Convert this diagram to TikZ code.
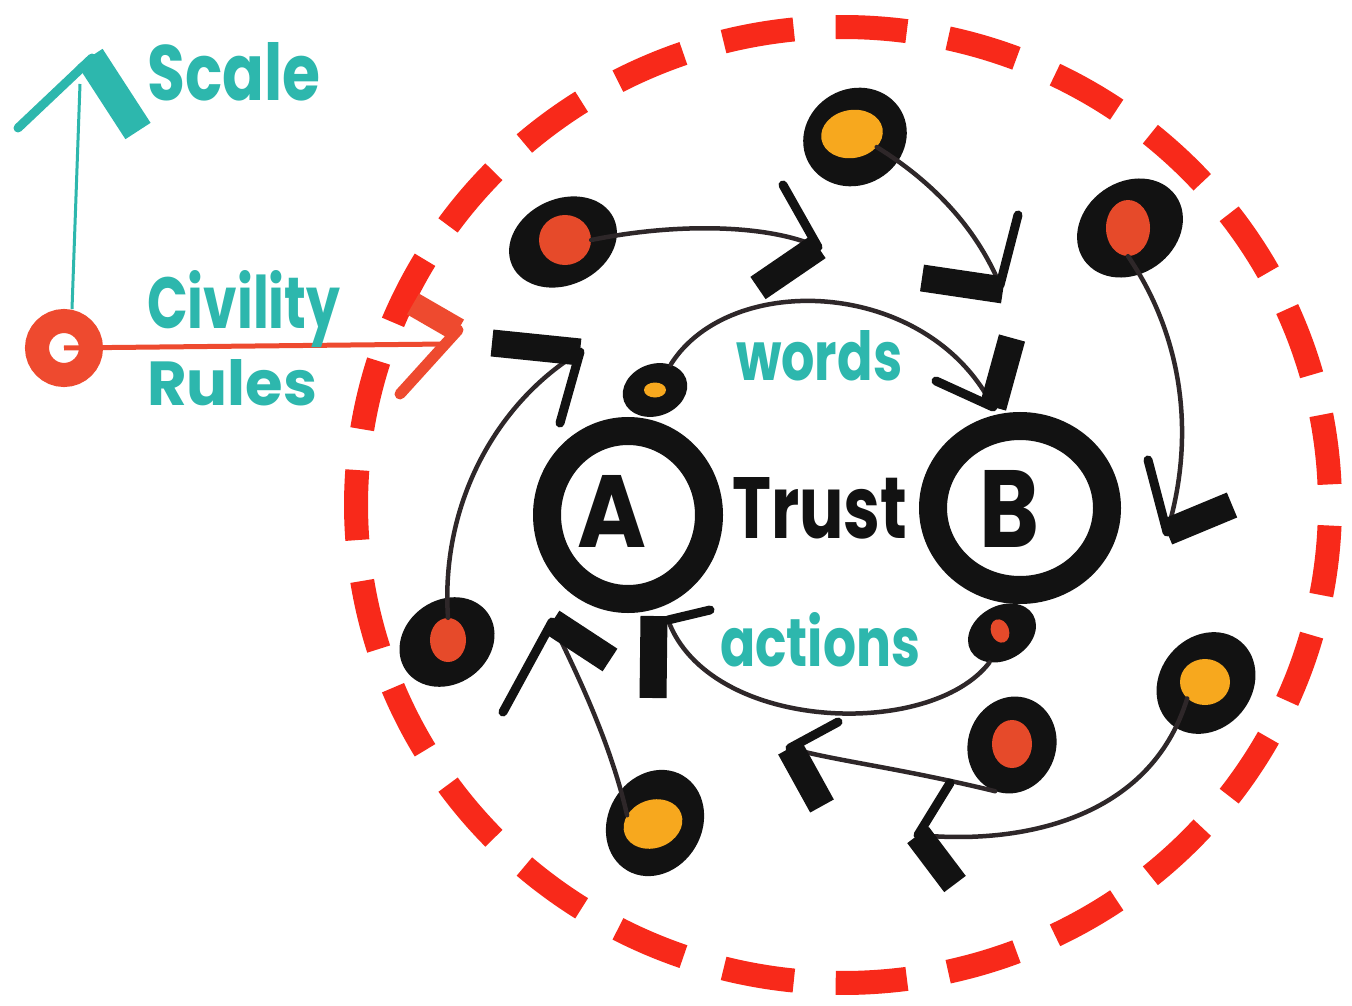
\documentclass[tikz,border=0pt]{standalone}
\usepackage{fontspec}
\setmainfont{Poppins}
\usetikzlibrary{shapes.geometric,calc}
\definecolor{tealink}{HTML}{2DB7AD}
\definecolor{dashred}{HTML}{F8291A}
\definecolor{arrred}{HTML}{EE4A2F}
\definecolor{dotred}{HTML}{E64A2A}
\definecolor{dotorange}{HTML}{F7A81E}
\definecolor{ink}{HTML}{121212}
\definecolor{wirecol}{HTML}{2E2729}
\newcommand{\fitto}[3]{\resizebox{#1pt}{#2pt}{#3}}
\begin{document}
\begin{tikzpicture}[x=1pt,y=-1pt,
  blackdot/.style={ellipse, fill=ink, inner sep=0pt},
  innerdot/.style={ellipse, inner sep=0pt},
  wire/.style={draw=wirecol, line width=4.5pt, line cap=round},
  thinhead/.style={draw=ink, line width=9pt, line cap=round},
  thickhead/.style={draw=ink, line width=27pt, line cap=butt},
  txt/.style={inner sep=0pt, anchor=base west, font=\bfseries},
  bigring/.style={ellipse, draw=ink, line width=28pt, inner sep=0pt},
  dashring/.style={draw=dashred, line width=24pt, line cap=butt},
]
\useasboundingbox[fill=white] (0,0) rectangle (1352,1006);

% dashed outer ring
\coordinate (ctr) at (843,505);
\foreach \k in {0,...,26} {
  \pgfmathsetmacro\c{206.667+13.333*\k}
  \draw[dashring] ($(ctr)+(\c-4.2:487 and 478)$) arc[start angle=\c-4.2, end angle=\c+4.2, x radius=487, y radius=478];
}

% Scale / Civility Rules
\node[circle, draw=arrred, line width=24pt, minimum size=54pt, inner sep=0pt] (ring) at (64,348) {};
\coordinate (stip) at (92,58);
\coordinate (sline) at (80,84);
\draw[draw=tealink, line width=3pt] ([xshift=8pt]ring.north) -- (sline);
\draw[draw=tealink, line width=9pt, line cap=round] (stip) -- (18,128);
\draw[draw=tealink, line width=30pt] (90,57) -- (138,131);
\coordinate (rline) at (446,344);
\coordinate (rtip) at (458,330);
\draw[draw=arrred, line width=5pt] (ring.center) -- (rline);
\draw[draw=arrred, line width=24pt] (413,304) -- (rtip);
\draw[draw=arrred, line width=11pt, line cap=round] (rtip) -- (400,394);

\node[txt, text=tealink] (scale) at (147,101) {\fitto{173}{58}{Scale}};
\node[txt, text=tealink] (civ) at (147,328) {\fitto{193}{58}{Civility}};
\node[txt, text=tealink] (rules) at (147,405) {\fitto{170}{46}{Rules}};

% big circles
\node[bigring, minimum width=162pt, minimum height=168pt] (A) at (628,515) {};
\node[bigring, minimum width=174pt, minimum height=164pt] (B) at (1020,508) {};
\node[txt, text=ink] (Alab) at (577,547) {\fitto{69}{72}{A}};
\node[txt, text=ink] (Blab) at (979,547) {\fitto{60}{77}{B}};
\node[txt, text=ink] (trust) at (732,538) {\fitto{175}{61}{Trust}};
\node[txt, text=tealink] (words) at (736,380) {\fitto{166}{50}{words}};
\node[txt, text=tealink] (actions) at (720,666) {\fitto{200}{54}{actions}};

% small dots near A and B
\node[blackdot, minimum width=66pt, minimum height=52pt, rotate=20] (s1) at (655,390) {};
\node[innerdot, fill=dotorange, minimum width=22pt, minimum height=15pt] (si1) at (655,390) {};
\node[blackdot, minimum width=72pt, minimum height=54pt, rotate=30] (s2) at (1002,633) {};
\node[innerdot, fill=dotred, minimum width=18pt, minimum height=24pt, rotate=20] (si2) at (1000,631) {};

% outer dots
\node[blackdot, minimum width=112pt, minimum height=86pt, rotate=25] (d1) at (563,242) {};
\node[innerdot, fill=dotred, minimum width=52pt, minimum height=50pt] (i1) at (565,240) {};
\node[blackdot, minimum width=106pt, minimum height=96pt, rotate=30] (d2) at (855,137) {};
\node[innerdot, fill=dotorange, minimum width=62pt, minimum height=48pt, rotate=10] (i2) at (852,134) {};
\node[blackdot, minimum width=112pt, minimum height=92pt, rotate=35] (d3) at (1130,228) {};
\node[innerdot, fill=dotred, minimum width=44pt, minimum height=56pt] (i3) at (1128,228) {};
\node[blackdot, minimum width=100pt, minimum height=84pt, rotate=35] (d4) at (447,642) {};
\node[innerdot, fill=dotred, minimum width=36pt, minimum height=44pt] (i4) at (448,640) {};
\node[blackdot, minimum width=110pt, minimum height=94pt, rotate=60] (d5) at (655,823) {};
\node[innerdot, fill=dotorange, minimum width=60pt, minimum height=48pt, rotate=20] (i5) at (653,824) {};
\node[blackdot, minimum width=98pt, minimum height=88pt, rotate=70] (d6) at (1012,745) {};
\node[innerdot, fill=dotred, minimum width=40pt, minimum height=48pt] (i6) at (1012,744) {};
\node[blackdot, minimum width=108pt, minimum height=92pt, rotate=50] (d7) at (1206,683) {};
\node[innerdot, fill=dotorange, minimum width=50pt, minimum height=46pt] (i7) at (1205,682) {};

% tips
\coordinate (t1) at (818,247);
\coordinate (t2) at (1000,285);
\coordinate (t3) at (1167,532);
\coordinate (t4) at (580,352);
\coordinate (t5) at (552,622);
\coordinate (t6) at (790,748);
\coordinate (t7) at (918,835);
\coordinate (t8) at (993,407);
\coordinate (t9) at (668,620);

% connectors
\draw[wire] (i1.east) .. controls (680,222) and (770,225) .. (t1);
\draw[wire] (i2.south east) .. controls (930,180) and (975,225) .. (t2);
\draw[wire] (i3.south) .. controls (1185,340) and (1195,440) .. (t3);
\draw[wire] (i4.north) .. controls (440,500) and (500,400) .. (t4);
\draw[wire] (i5.north west) .. controls (610,740) and (575,670) .. (t5);
\draw[wire] (d6.west) .. controls (900,768) and (830,760) .. (t6);
\draw[wire] (i7.south west) .. controls (1150,820) and (1020,845) .. (t7);
\draw[wire] (s1.north east) .. controls (730,270) and (928,278) .. (t8);
\draw[wire] (s2.south west) .. controls (930,740) and (709,732) .. (t9);

% arrow heads
\draw[thinhead] (t1) -- (783,185);  \draw[thickhead] (t1) -- (758,288);
\draw[thinhead] (t2) -- (1018,215); \draw[thickhead] (1003,290) -- (922,278);
\draw[thinhead] (t3) -- (1148,460); \draw[thickhead] (t3) -- (1232,505);
\draw[thinhead] (t4) -- (560,423);  \draw[thickhead] (t4) -- (492,343);
\draw[thinhead] (t5) -- (503,712);  \draw[thickhead] (t5) -- (610,660);
\draw[thinhead] (t6) -- (838,722);  \draw[thickhead] (t6) -- (822,806);
\draw[thinhead] (t7) -- (950,783);  \draw[thickhead] (t7) -- (955,884);
\draw[thinhead] (t8) -- (936,381);  \draw[thickhead] (t8) -- (1012,338);
\draw[thinhead] (t9) -- (710,610);  \draw[thickhead] (654,616) -- (653,698);
\end{tikzpicture}
\end{document}
